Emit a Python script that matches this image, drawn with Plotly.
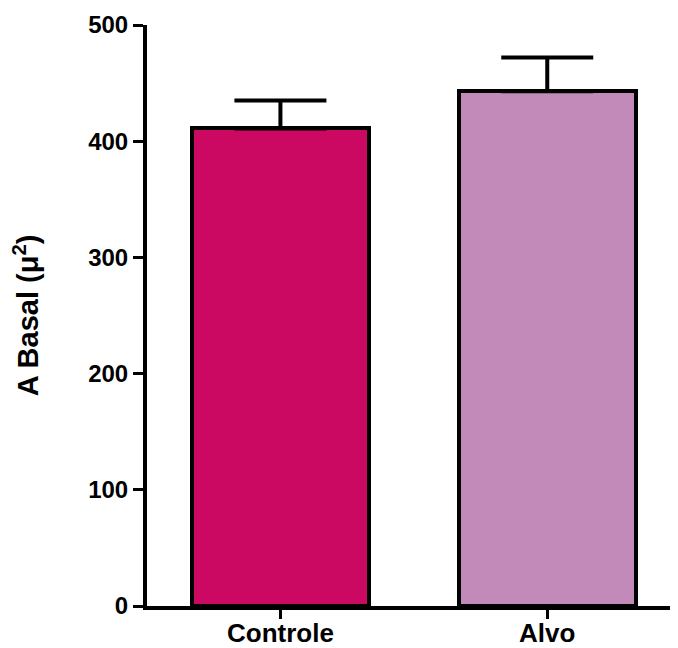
import plotly.graph_objects as go

categories = ["Controle", "Alvo"]
means = [411, 443]
sems = [24, 29]
colors = ["#CC0962", "#C18AB8"]

FONT = "Liberation Sans, Arial, sans-serif"

fig = go.Figure()
fig.add_trace(go.Bar(
    x=categories, y=means,
    width=0.664,
    marker=dict(color=colors, line=dict(color="black", width=4)),
    error_y=dict(type="data", array=sems, arrayminus=[0, 0], symmetric=False,
                 color="black", thickness=4, width=46),
))

# page body has an 8px margin, so the figure is drawn 8px smaller and offset
fig.update_layout(
    width=670, height=640,
    margin=dict(l=139, r=0, t=17, b=42, autoexpand=False),
    plot_bgcolor="white", paper_bgcolor="white",
    showlegend=False,
    font=dict(family=FONT, size=24, color="black"),
    bargap=0,
)
fig.update_xaxes(
    range=[-0.5, 1.49], showgrid=False, zeroline=False,
    showline=True, linecolor="black", linewidth=4,
    ticks="outside", ticklen=9, tickwidth=3, tickcolor="black",
    ticklabelstandoff=-8,
    tickfont=dict(family=FONT, size=26, color="black", weight="bold"),
)
fig.update_yaxes(
    range=[0, 500], tickvals=[0, 100, 200, 300, 400, 500],
    showgrid=False, zeroline=False,
    showline=True, linecolor="black", linewidth=4,
    ticks="outside", ticklen=10, tickwidth=3, tickcolor="black",
    tickfont=dict(family=FONT, size=24, color="black", weight="bold"),
    title=dict(text="A Basal (μ<sup>2</sup>)", standoff=42,
               font=dict(family=FONT, size=29, color="black", weight="bold")),
)
fig.write_html("out.html")
